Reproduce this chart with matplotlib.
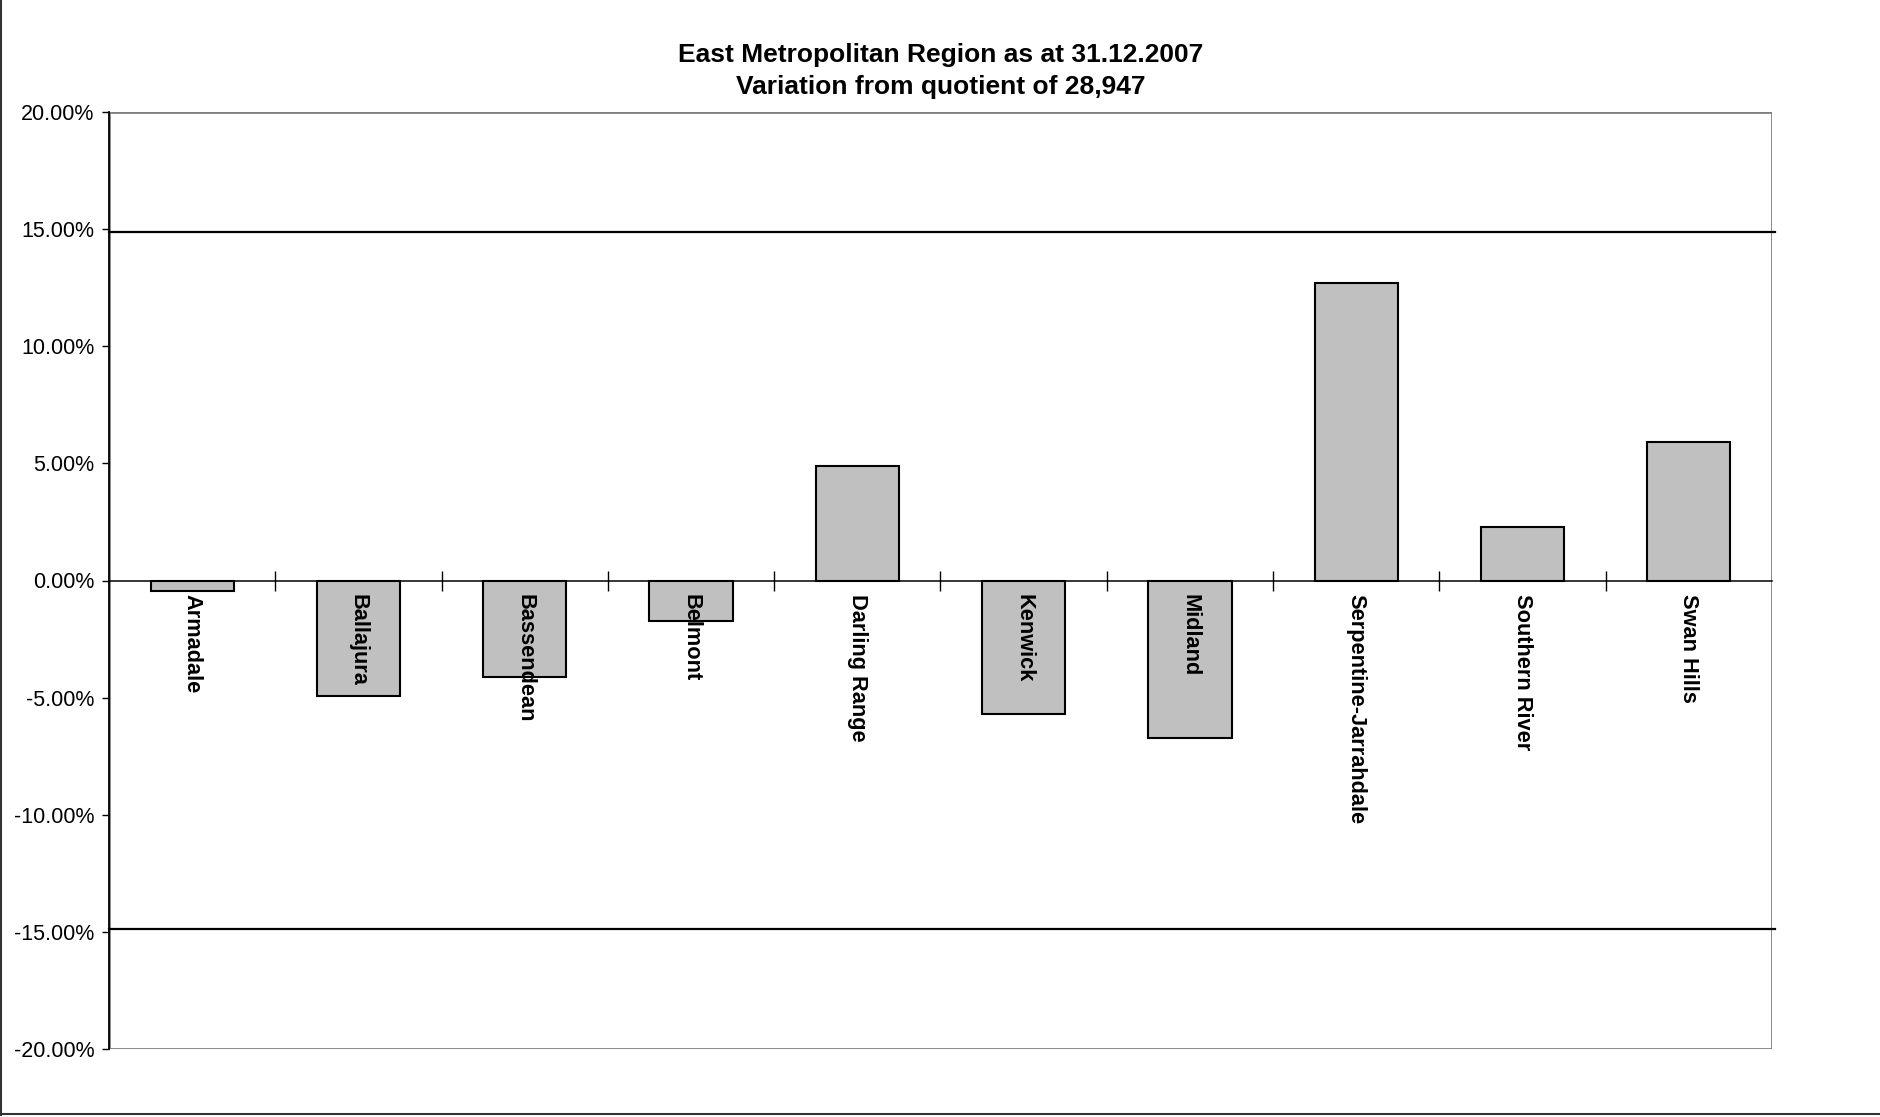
import matplotlib.pyplot as plt
from matplotlib.patches import Rectangle
from matplotlib.ticker import FuncFormatter, FixedLocator
import numpy as np

plt.rcParams['font.family'] = ['Liberation Sans', 'DejaVu Sans']

# data
districts = ["Armadale", "Ballajura", "Bassendean", "Belmont", "Darling Range",
             "Kenwick", "Midland", "Serpentine-Jarrahdale", "Southern River", "Swan Hills"]
variation = [-0.46, -4.93, -4.14, -1.75, 4.88, -5.69, -6.74, 12.72, 2.30, 5.90]  # percent
tolerance = 14.88  # drawn tolerance lines
y_ticks = [-20, -15, -10, -5, 0, 5, 10, 15, 20]
title = "East Metropolitan Region as at 31.12.2007\nVariation from quotient of 28,947"

fig = plt.figure(figsize=(18.81, 11.17), dpi=100)
ax = fig.add_axes([109 / 1881, 1 - 1049 / 1117, (1772 - 109) / 1881, (1049 - 112) / 1117])

x = np.arange(len(districts))
ax.bar(x, variation, width=0.5, color="#c0c0c0", edgecolor="black", linewidth=1.5, zorder=2)

ax.set_xlim(-0.5, len(districts) - 0.5)
ax.set_ylim(-20, 20)

# tolerance lines
for v in (tolerance, -tolerance):
    ax.plot([-0.5, len(districts) - 0.48], [v, v], color="black", lw=1.6,
            clip_on=False, zorder=1.5)

# plot-area border
ax.add_patch(Rectangle((0, 0), 1, 1, transform=ax.transAxes, fill=False,
                       edgecolor="#808080", lw=2, zorder=1))
for s in ("top", "right"):
    ax.spines[s].set_visible(False)
ax.spines["left"].set_color("black")
ax.spines["left"].set_linewidth(1.3)
ax.spines["left"].set_zorder(4)
ax.spines["bottom"].set_position(("data", 0))
ax.spines["bottom"].set_color("black")
ax.spines["bottom"].set_linewidth(1.1)
ax.spines["bottom"].set_zorder(4)
ax.xaxis.set_zorder(5)

ax.set_yticks(y_ticks)
ax.yaxis.set_major_formatter(FuncFormatter(lambda v, p: f"{v:.2f}%"))
ax.tick_params(axis="y", direction="out", length=5, width=1, labelsize=15.5, pad=5.5)

# category boundary ticks crossing the zero line, labels at centres
ax.xaxis.set_major_locator(FixedLocator(x[:-1] + 0.5))
ax.xaxis.set_minor_locator(FixedLocator(x))
ax.set_xticklabels([], minor=False)
ax.set_xticklabels(districts, minor=True, rotation=270, fontweight="bold", fontsize=15.7)
ax.tick_params(axis="x", which="major", direction="inout", length=14, width=1)
ax.tick_params(axis="x", which="minor", length=0, pad=10)

fig.text((109 + 1772) / 2 / 1881, 1 - 71 / 1117, title, ha="center", va="center",
         fontsize=19, fontweight="bold", linespacing=1.4)

# figure frame (left and bottom edges)
fig.add_artist(plt.Line2D([0.0005, 0.0005], [0.002, 1], transform=fig.transFigure,
                          color="#333333", lw=1.5))
fig.add_artist(plt.Line2D([0, 1], [0.0025, 0.0025], transform=fig.transFigure,
                          color="#333333", lw=1.5))

fig.savefig("out.png", dpi=100)
